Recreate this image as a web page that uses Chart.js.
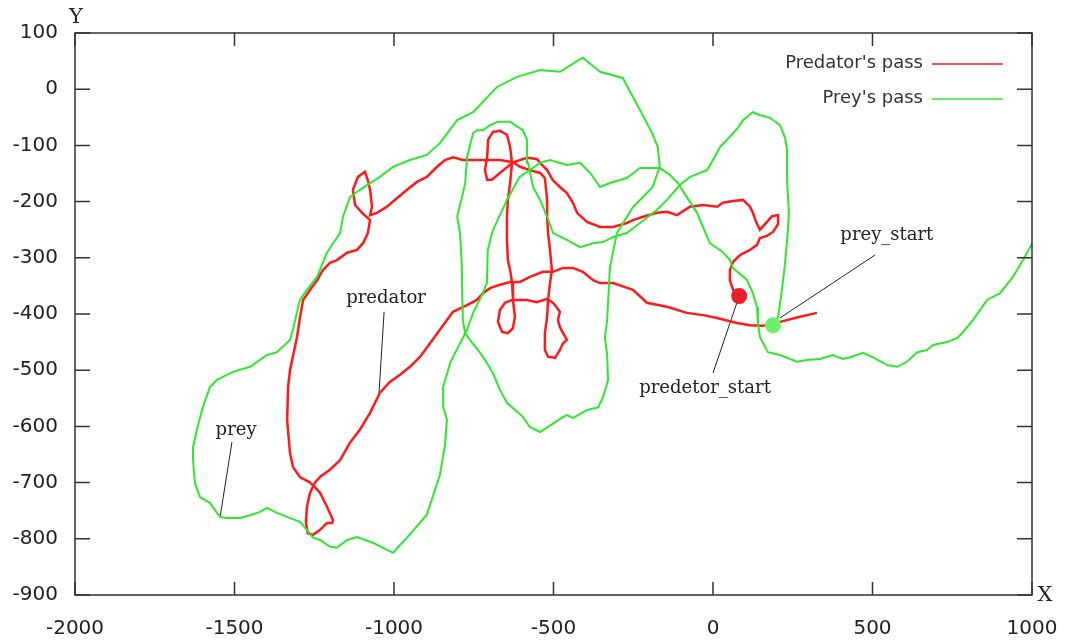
<!DOCTYPE html>
<html>
<head>
<meta charset="utf-8">
<script src="https://cdn.jsdelivr.net/npm/chart.js@4.4.0/dist/chart.umd.min.js"></script>
<style>
  html, body { margin: 0; padding: 0; background: #fff; }
  #wrap { width: 1067px; height: 642px; }
</style>
</head>
<body>
<div id="wrap"><canvas id="passChart" width="1067" height="642"></canvas></div>
<script>
// axis ticks
const xTicks = [-2000, -1500, -1000, -500, 0, 500, 1000];
const yTicks = [100, 0, -100, -200, -300, -400, -500, -600, -700, -800, -900];

// tracked paths, [x, y]
const predatorPass = [
  [82,-368],[63,-357],[53,-340],[53,-322],[63,-307],[85,-295],[116,-286],[138,-277],[147,-265],[169,-261],
  [188,-254],[204,-240],[204,-224],[185,-226],[163,-240],[147,-250],[135,-236],[125,-220],[116,-209],[94,-197],
  [63,-199],[31,-202],[13,-209],[-31,-206],[-72,-209],[-113,-224],[-144,-218],[-176,-220],[-219,-227],[-251,-233],
  [-270,-238],[-313,-245],[-354,-245],[-395,-236],[-426,-220],[-439,-202],[-458,-185],[-480,-174],[-502,-162],[-520,-144],
  [-542,-131],[-552,-124],[-583,-122],[-627,-130],[-668,-149],[-693,-161],[-708,-161],[-715,-144],[-708,-121],[-705,-90],
  [-690,-76],[-668,-74],[-646,-81],[-636,-103],[-630,-131],[-636,-167],[-643,-197],[-646,-227],[-646,-268],[-643,-304],
  [-636,-322],[-630,-343],[-627,-375],[-621,-405],[-627,-425],[-643,-434],[-661,-432],[-674,-414],[-668,-393],[-652,-380],
  [-630,-375],[-583,-375],[-552,-379],[-520,-373],[-502,-380],[-489,-389],[-480,-396],[-486,-411],[-480,-423],[-470,-434],
  [-458,-446],[-470,-452],[-480,-464],[-495,-478],[-517,-476],[-527,-464],[-527,-434],[-520,-405],[-517,-375],[-511,-345],
  [-505,-322],[-511,-286],[-517,-256],[-520,-227],[-520,-197],[-527,-158],[-542,-149],[-574,-144],[-605,-138],[-627,-130],
  [-668,-126],[-708,-126],[-752,-126],[-784,-126],[-815,-121],[-840,-126],[-865,-138],[-897,-156],[-928,-165],[-959,-179],
  [-991,-194],[-1022,-209],[-1053,-220],[-1075,-224],[-1069,-209],[-1075,-179],[-1082,-162],[-1091,-147],[-1113,-156],[-1129,-179],
  [-1122,-206],[-1100,-220],[-1075,-233],[-1082,-256],[-1097,-274],[-1116,-286],[-1147,-291],[-1179,-304],[-1201,-309],[-1223,-322],
  [-1241,-340],[-1263,-357],[-1285,-375],[-1295,-407],[-1304,-441],[-1326,-500],[-1332,-530],[-1335,-589],[-1326,-647],[-1317,-672],
  [-1295,-690],[-1263,-700],[-1248,-708],[-1232,-718],[-1210,-743],[-1191,-767],[-1194,-772],[-1210,-772],[-1232,-784],[-1254,-793],
  [-1270,-790],[-1276,-772],[-1273,-743],[-1263,-718],[-1248,-700],[-1232,-690],[-1201,-677],[-1169,-660],[-1138,-629],[-1107,-606],
  [-1075,-576],[-1044,-540],[-1013,-521],[-981,-508],[-950,-494],[-918,-476],[-887,-452],[-856,-428],[-815,-396],[-771,-384],
  [-740,-375],[-721,-363],[-699,-354],[-668,-348],[-636,-343],[-605,-343],[-574,-334],[-533,-325],[-502,-325],[-470,-318],
  [-439,-318],[-408,-325],[-376,-340],[-354,-345],[-313,-345],[-251,-357],[-207,-380],[-144,-387],[-82,-398],[-31,-402],
  [13,-407],[75,-416],[116,-420],[157,-421],[210,-414],[273,-405],[326,-398]
];

const preyPass = [
  [188,-420],[204,-405],[216,-357],[226,-309],[235,-250],[238,-220],[232,-162],[232,-108],[226,-87],[210,-64],
  [179,-51],[147,-46],[125,-41],[94,-55],[78,-69],[44,-90],[22,-103],[0,-126],[-19,-144],[-41,-149],
  [-72,-156],[-103,-170],[-144,-197],[-176,-215],[-229,-238],[-270,-256],[-313,-263],[-345,-272],[-376,-274],[-417,-281],
  [-458,-268],[-501,-256],[-520,-227],[-542,-197],[-564,-174],[-580,-131],[-583,-90],[-596,-73],[-636,-58],[-674,-58],
  [-699,-64],[-721,-73],[-740,-73],[-752,-78],[-771,-121],[-777,-168],[-802,-227],[-793,-256],[-787,-316],[-787,-345],
  [-784,-411],[-777,-434],[-762,-446],[-730,-469],[-709,-487],[-690,-505],[-668,-535],[-646,-558],[-596,-583],[-574,-601],
  [-542,-610],[-474,-585],[-458,-580],[-439,-585],[-395,-571],[-360,-566],[-345,-548],[-329,-518],[-332,-470],[-339,-442],
  [-332,-412],[-323,-316],[-301,-256],[-251,-210],[-189,-174],[-167,-138],[-173,-103],[-191,-78],[-229,-37],[-283,20],
  [-354,31],[-408,56],[-480,31],[-542,34],[-614,22],[-677,4],[-752,-41],[-802,-55],[-856,-96],[-897,-117],
  [-950,-126],[-1003,-138],[-1044,-156],[-1075,-167],[-1107,-179],[-1138,-192],[-1160,-227],[-1169,-256],[-1191,-274],[-1210,-291],
  [-1241,-334],[-1273,-357],[-1295,-375],[-1317,-428],[-1326,-446],[-1367,-468],[-1398,-473],[-1451,-494],[-1505,-503],[-1555,-517],
  [-1577,-530],[-1599,-565],[-1618,-606],[-1630,-637],[-1630,-660],[-1624,-701],[-1608,-726],[-1577,-736],[-1561,-749],[-1545,-761],
  [-1524,-763],[-1483,-763],[-1451,-758],[-1420,-752],[-1398,-745],[-1367,-754],[-1335,-761],[-1295,-770],[-1273,-784],[-1254,-798],
  [-1232,-802],[-1201,-814],[-1179,-816],[-1147,-802],[-1116,-797],[-1066,-807],[-1034,-816],[-1003,-825],[-981,-811],[-959,-798],
  [-897,-757],[-856,-686],[-840,-633],[-834,-588],[-846,-565],[-846,-530],[-824,-487],[-793,-452],[-771,-428],[-752,-398],
  [-721,-363],[-709,-345],[-706,-286],[-690,-251],[-646,-197],[-606,-156],[-542,-131],[-511,-126],[-458,-135],[-417,-131],
  [-385,-149],[-354,-174],[-323,-167],[-270,-158],[-229,-140],[-167,-140],[-136,-152],[-110,-167],[-82,-192],[-50,-220],
  [-10,-274],[31,-290],[53,-304],[62,-318],[106,-339],[125,-363],[138,-388],[141,-416],[147,-441],[172,-468],
  [210,-473],[263,-485],[294,-482],[335,-480],[376,-473],[407,-480],[430,-477],[470,-469],[502,-477],[546,-491],
  [577,-494],[608,-485],[640,-468],[671,-464],[690,-455],[734,-450],[765,-443],[784,-432],[815,-411],[859,-375],
  [900,-363],[940,-334],[972,-304],[994,-281],[1025,-250]
];

const predatorStart = [82, -368];
const preyStart = [188, -420];

// labels with their pointer lines
const callouts = [
  { text: 'predator', at: [-1025, -380], from: [-1031, -396], to: [-1047, -541] },
  { text: 'prey', at: [-1495, -615], from: [-1508, -628], to: [-1545, -761] },
  { text: 'predetor_start', at: [-25, -541], from: [82, -368], to: [0, -505] },
  { text: 'prey_start', at: [545, -268], from: [508, -295], to: [210, -407] }
];

const legendItems = [
  { text: "Predator's pass", color: '#ff1a1a' },
  { text: "Prey's pass", color: '#2ee82e' }
];

const toPts = arr => arr.map(p => ({ x: p[0], y: p[1] }));

const datasets = [
  { data: toPts([predatorStart]), pointRadius: 8, pointBackgroundColor: '#e6202a', pointBorderWidth: 0, showLine: false, order: 0 },
  { data: toPts([preyStart]), pointRadius: 8, pointBackgroundColor: '#6cf06c', pointBorderWidth: 0, showLine: false, order: 1 },
  { data: toPts(preyPass), borderColor: '#2ee82e', borderWidth: 2, pointRadius: 0, showLine: true, tension: 0, order: 2 },
  { data: toPts(predatorPass), borderColor: '#ff1a1a', borderWidth: 2.5, pointRadius: 0, showLine: true, tension: 0, order: 3 }
];
callouts.forEach(c => {
  datasets.push({ data: toPts([c.from, c.to]), borderColor: '#222', borderWidth: 1, pointRadius: 0, showLine: true, tension: 0, order: 4 });
});

const frame = {
  id: 'frame',
  afterDraw(chart) {
    const { ctx, chartArea: a, scales: { x, y } } = chart;
    ctx.save();
    ctx.strokeStyle = '#333';
    ctx.lineWidth = 1.5;
    ctx.strokeRect(a.left, a.top, a.right - a.left, a.bottom - a.top);
    ctx.beginPath();
    xTicks.forEach(v => {
      const px = x.getPixelForValue(v);
      ctx.moveTo(px, a.bottom); ctx.lineTo(px, a.bottom - 13);
      ctx.moveTo(px, a.top); ctx.lineTo(px, a.top + 13);
    });
    yTicks.forEach(v => {
      const py = y.getPixelForValue(v);
      ctx.moveTo(a.left, py); ctx.lineTo(a.left + 15, py);
      ctx.moveTo(a.right, py); ctx.lineTo(a.right - 15, py);
    });
    ctx.stroke();

    // axis letters
    ctx.fillStyle = '#222';
    ctx.font = '21px "DejaVu Serif"';
    ctx.textAlign = 'center';
    ctx.textBaseline = 'middle';
    ctx.fillText('Y', a.left + 1, a.top - 15);
    ctx.fillText('X', a.right + 13, a.bottom + 1);

    // callout labels
    ctx.font = '18px "DejaVu Serif"';
    ctx.textBaseline = 'alphabetic';
    callouts.forEach(c => {
      ctx.fillText(c.text, x.getPixelForValue(c.at[0]), y.getPixelForValue(c.at[1]));
    });

    // legend, top right
    ctx.font = '18px "DejaVu Sans"';
    ctx.textAlign = 'right';
    ctx.textBaseline = 'middle';
    legendItems.forEach((it, i) => {
      const ly = a.top + 30 + i * 35;
      ctx.fillStyle = '#333';
      ctx.fillText(it.text, a.right - 109, ly);
      ctx.strokeStyle = it.color;
      ctx.lineWidth = 1.5;
      ctx.beginPath();
      ctx.moveTo(a.right - 100, ly + 1);
      ctx.lineTo(a.right - 29, ly + 1);
      ctx.stroke();
    });
    ctx.restore();
  }
};

new Chart(document.getElementById('passChart'), {
  type: 'scatter',
  data: { datasets: datasets },
  options: {
    responsive: false,
    animation: false,
    layout: { padding: { top: 33, right: 35, left: 0, bottom: 0 } },
    plugins: { legend: { display: false }, tooltip: { enabled: false } },
    scales: {
      x: {
        type: 'linear', min: -2000, max: 1000,
        afterFit: s => { s.height = 47; s.paddingLeft = 0; s.paddingRight = 0; },
        grid: { display: false, drawTicks: false },
        border: { display: false },
        ticks: { stepSize: 500, padding: 22, color: '#222', callback: v => String(v),
                 font: { family: 'DejaVu Sans', size: 20 } }
      },
      y: {
        type: 'linear', min: -900, max: 100,
        afterFit: s => { s.width = 75; s.paddingTop = 0; s.paddingBottom = 0; },
        grid: { display: false, drawTicks: false },
        border: { display: false },
        ticks: { stepSize: 100, padding: 17, color: '#222', callback: v => String(v),
                 font: { family: 'DejaVu Sans', size: 20 } }
      }
    }
  },
  plugins: [frame]
});
</script>
</body>
</html>
